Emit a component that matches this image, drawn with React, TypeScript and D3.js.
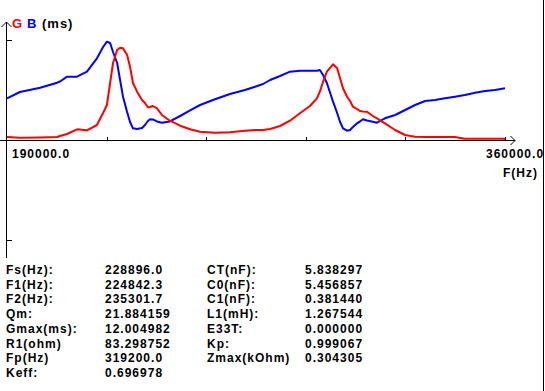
import React from 'react';
import * as d3 from 'd3';

const FREQ = [
  190000, 194400, 201300, 207100, 208100, 210500, 213900, 217300, 220700, 222800,
  224100, 225200, 226200, 227600, 228600, 229600, 231000, 232000, 233000, 234400,
  236100, 237100, 238100, 238800, 239800, 241200, 242900, 245600, 249100, 252500,
  255900, 261000, 266100, 271200, 274700, 277400, 279800, 283200, 286600, 290000,
  293400, 295800, 296800, 297900, 299200, 301300, 302700, 303700, 304700, 306100,
  307100, 308100, 309500, 310500, 311500, 312900, 314900, 316300, 319000, 322500,
  325900, 329300, 332700, 336100, 339500, 342900, 346300, 349800, 353200, 356600,
  360000,
];

const G_MS = [
  0.39, 0.30, 0.33, 0.39, 0.52, 0.78, 1.39, 1.26, 1.95, 3.51,
  4.55, 7.41, 10.01, 11.70, 12.00, 11.92, 11.05, 9.53, 7.41, 6.28,
  5.20, 4.81, 4.25, 4.29, 4.42, 4.12, 3.25, 2.51, 1.86, 1.39,
  1.08, 0.95, 1.00, 1.21, 1.30, 1.30, 1.43, 1.82, 2.51, 3.47,
  4.42, 5.42, 6.28, 7.58, 8.88, 9.84, 9.32, 8.02, 6.72, 5.63,
  5.07, 4.33, 4.03, 3.77, 3.71, 3.68, 3.12, 2.80, 2.17, 1.30,
  0.65, 0.43, 0.39, 0.39, 0.39, 0.39, 0.17, 0.17, 0.17, 0.17,
  0.17,
];

const B_MS = [
  5.42, 6.24, 6.80, 7.45, 7.61, 8.23, 8.23, 8.88, 10.62, 12.09,
  12.78, 12.61, 11.44, 10.01, 7.80, 5.63, 3.64, 2.34, 1.52, 1.43,
  1.56, 1.95, 2.47, 2.69, 2.67, 2.41, 2.25, 2.41, 3.12, 3.84,
  4.55, 5.29, 5.98, 6.50, 6.93, 7.28, 7.80, 8.32, 8.88, 9.01,
  9.01, 9.01, 9.10, 8.45, 7.41, 4.98, 3.51, 2.34, 1.52, 1.21,
  1.30, 1.69, 2.17, 2.41, 2.69, 2.54, 2.38, 2.25, 2.82, 3.25,
  3.90, 4.55, 5.07, 5.20, 5.42, 5.63, 5.85, 6.15, 6.37, 6.50,
  6.72,
];

const X_TICKS = [224000, 258000, 292000, 326000, 360000];
const Y_TICKS = [13, -13];
const X_MIN_LABEL = '190000.0';
const X_MAX_LABEL = '360000.0';

const LABELS_1 = ['Fs(Hz):', 'F1(Hz):', 'F2(Hz):', 'Qm:', 'Gmax(ms):', 'R1(ohm)', 'Fp(Hz)', 'Keff:'];
const VALUES_1 = ['228896.0', '224842.3', '235301.7', '21.884159', '12.004982', '83.298752', '319200.0', '0.696978'];
const LABELS_2 = ['CT(nF):', 'C0(nF):', 'C1(nF):', 'L1(mH):', 'E33T:', 'Kp:', 'Zmax(kOhm)'];
const VALUES_2 = ['5.838297', '5.456857', '0.381440', '1.267544', '0.000000', '0.999067', '0.304305'];

const W = 545;
const H = 391;
const FONT = "'Liberation Sans', Arial, sans-serif";

const AdmittanceChart: React.FC = () => {
  const svgRef = React.useRef<SVGSVGElement>(null);

  React.useEffect(() => {
    const svg = d3.select(svgRef.current);
    svg.selectAll('*').remove();

    const x = d3.scaleLinear().domain([190000, 360000]).range([7, 505]);
    const y = d3.scaleLinear().domain([-13, 13]).range([240, 40]);
    const y0 = Math.round(y(0)) + 0.5;
    const ax = 6.5;

    svg.append('rect').attr('width', W).attr('height', H).attr('fill', '#fff');

    const axes = svg.append('g')
      .attr('stroke', '#000')
      .attr('stroke-width', 1)
      .attr('fill', 'none')
      .attr('shape-rendering', 'crispEdges');

    // x axis + arrow
    axes.append('line').attr('x1', 0).attr('x2', 515).attr('y1', y0).attr('y2', y0);
    axes.append('polyline')
      .attr('shape-rendering', 'auto')
      .attr('points', `510.5,136 515,${y0} 510.5,145`);
    for (const t of X_TICKS) {
      const tx = Math.round(x(t)) + 0.5;
      axes.append('line').attr('x1', tx).attr('x2', tx).attr('y1', y0 - 4).attr('y2', y0);
    }

    // y axis + arrow
    axes.append('line').attr('x1', ax).attr('x2', ax).attr('y1', 22).attr('y2', 258);
    axes.append('polyline')
      .attr('shape-rendering', 'auto')
      .attr('points', `1.5,27 ${ax},22 11.5,27`);
    for (const t of Y_TICKS) {
      const ty = Math.round(y(t)) + 0.5;
      axes.append('line').attr('x1', ax).attr('x2', ax + 5).attr('y1', ty).attr('y2', ty);
    }

    // right frame
    axes.append('line').attr('x1', 543.5).attr('x2', 543.5).attr('y1', 0).attr('y2', H);

    const line = (vals: number[]) => d3.line<number>()
      .x((_, i) => x(FREQ[i]))
      .y(d => y(d))(vals);

    svg.append('path')
      .attr('d', line(B_MS))
      .attr('fill', 'none')
      .attr('stroke', '#0000ff')
      .attr('stroke-width', 2)
      .attr('stroke-linejoin', 'round');

    svg.append('path')
      .attr('d', line(G_MS))
      .attr('fill', 'none')
      .attr('stroke', '#ff0000')
      .attr('stroke-width', 2)
      .attr('stroke-linejoin', 'round');

    const txt = (tx: number, ty: number, s: string, fill = '#000', anchor = 'start', size = 12) =>
      svg.append('text')
        .attr('x', tx)
        .attr('y', ty)
        .attr('fill', fill)
        .attr('font-family', FONT)
        .attr('font-weight', 'bold')
        .attr('font-size', size)
        .attr('letter-spacing', 1)
        .attr('text-anchor', anchor)
        .text(s);

    // legend
    txt(12, 28, 'G', '#ff0000', 'start', 13);
    txt(27, 28, 'B', '#0000ff', 'start', 13);
    txt(42, 28, '(ms)', '#000', 'start', 13);

    // axis labels
    txt(12, 158, X_MIN_LABEL);
    txt(486, 158, X_MAX_LABEL);
    txt(538, 177, 'F(Hz)', '#000', 'end');

    // parameter table
    const rowY = (i: number) => 274 + i * 14.7;
    LABELS_1.forEach((s, i) => txt(6, rowY(i), s));
    VALUES_1.forEach((s, i) => txt(105, rowY(i), s));
    LABELS_2.forEach((s, i) => txt(207, rowY(i), s));
    VALUES_2.forEach((s, i) => txt(305, rowY(i), s));
  }, []);

  return (
    <svg
      ref={svgRef}
      width={W}
      height={H}
      style={{ position: 'absolute', left: 0, top: 0, display: 'block' }}
    />
  );
};

export default function App() {
  return <AdmittanceChart />;
}
